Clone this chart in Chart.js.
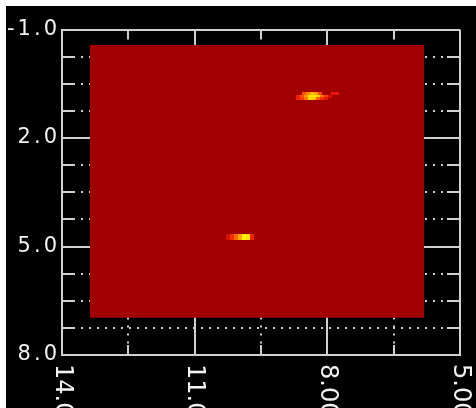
<!DOCTYPE html>
<html>
<head>
<meta charset="utf-8">
<script src="https://cdn.jsdelivr.net/npm/chart.js@4.4.0/dist/chart.umd.min.js"></script>
<style>
html, body { margin: 0; padding: 0; background: #fff; }
#wrap { position: absolute; left: 6px; top: 6px; width: 470px; height: 402px; background: #000; }
</style>
</head>
<body>
<div id="wrap"><canvas id="myChart" width="470" height="402"></canvas></div>
<script>
// tick positions and labels
var xMajor = [14, 11, 8, 5];
var xLabels = ['14.0', '11.0', '8.00', '5.00'];
var xMinor = [12.5, 9.5, 6.5];
var yMajor = [-1, 2, 5, 8];
var yLabels = ['-1.0', '2.0', '5.0', '8.0'];
var yMinor = [-0.25, 0.5, 1.25, 2.75, 3.5, 4.25, 5.75, 6.5, 7.25];

// extent of the map (x from, x to / y from, y to)
var fieldX = [13.37, 5.81];
var fieldY = [-0.57, 6.97];

// bright cells of the map
var hotX = [8.53, 8.44, 8.35, 8.26, 8.17, 7.87, 7.78,
            8.66, 8.57, 8.48, 8.39, 8.30, 8.21, 8.12, 8.03, 7.94,
            8.66, 8.57, 8.48, 8.39, 8.30, 8.21, 8.12, 8.03,
            10.25, 10.16, 10.07, 9.98, 9.88, 9.79, 9.70,
            10.25, 10.16, 10.07, 9.98, 9.88, 9.79, 9.70];
var hotY = [0.76, 0.76, 0.76, 0.76, 0.76, 0.76, 0.76,
            0.84, 0.84, 0.84, 0.84, 0.84, 0.84, 0.84, 0.84, 0.84,
            0.92, 0.92, 0.92, 0.92, 0.92, 0.92, 0.92, 0.92,
            4.69, 4.69, 4.69, 4.69, 4.69, 4.69, 4.69,
            4.77, 4.77, 4.77, 4.77, 4.77, 4.77, 4.77];
var hotV = [0.5, 0.65, 0.8, 0.75, 0.45, 0.25, 0.25,
            0.3, 0.5, 0.7, 0.95, 1, 0.9, 0.6, 0.4, 0.2,
            0.3, 0.4, 0.6, 0.9, 0.85, 0.55, 0.35, 0.25,
            0.2, 0.35, 0.55, 0.75, 1, 0.95, 0.3,
            0.2, 0.35, 0.55, 0.75, 1, 0.95, 0.3];

var stops = [[0, 162, 0, 0], [0.25, 230, 20, 0], [0.5, 255, 85, 0], [0.75, 255, 170, 0], [1, 255, 245, 0]];
function heat(v) {
  for (var i = 1; i < stops.length; i++) {
    if (v <= stops[i][0]) {
      var a = stops[i - 1], b = stops[i], t = (v - a[0]) / (b[0] - a[0]);
      return 'rgb(' + [1, 2, 3].map(function (k) { return Math.round(a[k] + (b[k] - a[k]) * t); }).join(',') + ')';
    }
  }
  return 'rgb(255,245,0)';
}

var cells = {};
function cell(color) {
  if (!cells[color]) {
    var c = document.createElement('canvas');
    c.width = 4; c.height = 3;
    var g = c.getContext('2d');
    g.fillStyle = color;
    g.fillRect(0, 0, 4, 3);
    cells[color] = c;
  }
  return cells[color];
}

function dotted(len, solid) {
  var d = [solid], pos = solid;
  while (pos + 8 + solid <= len) { d.push(6, 2); pos += 8; }
  d.push(len - pos - solid, solid, 1000);
  return d;
}

var lineGray = '#d0d0d0';

var tickText = {
  id: 'tickText',
  beforeDraw: function (chart) { chart.ctx.letterSpacing = '3px'; },
  afterDraw: function (chart) {
    var ctx = chart.ctx, sx = chart.scales.x, top = chart.chartArea.bottom + 9;
    ctx.save();
    ctx.letterSpacing = '0px';
    ctx.fillStyle = '#f2f2f2';
    ctx.font = '24px "DejaVu Sans"';
    ctx.textAlign = 'left';
    ctx.textBaseline = 'middle';
    xMajor.forEach(function (v, i) {
      ctx.save();
      ctx.translate(sx.getPixelForValue(v), top);
      ctx.rotate(Math.PI / 2);
      ctx.fillText(xLabels[i], 0, 0);
      ctx.restore();
    });
    ctx.restore();
  }
};

var ctx = document.getElementById('myChart').getContext('2d');
var myMap = new Chart(ctx, {
  type: 'scatter',
  data: {
    datasets: [{
      data: hotX.map(function (x, i) { return { x: x, y: hotY[i] }; }),
      pointStyle: function (c) { return cell(heat(hotV[c.dataIndex])); },
      pointRadius: 2,
      pointHoverRadius: 2
    }, {
      type: 'line',
      data: [{ x: fieldX[0], y: fieldY[1] }, { x: fieldX[1], y: fieldY[1] }],
      fill: { value: fieldY[0] },
      backgroundColor: heat(0),
      borderColor: 'transparent',
      borderWidth: 0,
      pointRadius: 0
    }]
  },
  options: {
    responsive: false,
    animation: false,
    events: [],
    layout: { padding: { top: 23.5, right: 16, left: 0, bottom: 0 } },
    plugins: { legend: { display: false }, tooltip: { enabled: false } },
    scales: {
      x: {
        type: 'linear', position: 'bottom', min: 5, max: 14, reverse: true,
        afterBuildTicks: function (s) { s.ticks = xMajor.map(function (v) { return { value: v }; }); },
        afterFit: function (s) { s.height = 53; },
        ticks: { display: false },
        grid: { color: lineGray, lineWidth: 2, drawTicks: false },
        border: { color: lineGray, width: 2 }
      },
      xm: {
        type: 'linear', position: 'bottom', min: 5, max: 14, reverse: true,
        afterBuildTicks: function (s) { s.ticks = xMinor.map(function (v) { return { value: v }; }); },
        afterFit: function (s) { s.height = 0; },
        ticks: { display: false },
        grid: { color: lineGray, lineWidth: 2, drawTicks: false },
        border: { display: false, dash: dotted(325.5, 10) }
      },
      y: {
        type: 'linear', position: 'left', min: -1, max: 8, reverse: true,
        afterBuildTicks: function (s) { s.ticks = yMajor.map(function (v) { return { value: v }; }); },
        afterFit: function (s) { s.width = 56; },
        ticks: {
          color: '#f2f2f2', padding: 2,
          font: { family: 'DejaVu Sans', size: 21 },
          callback: function (v) { return yLabels[yMajor.indexOf(v)]; }
        },
        grid: { color: lineGray, lineWidth: 2, drawTicks: false },
        border: { color: lineGray, width: 2 }
      },
      ym: {
        type: 'linear', position: 'left', min: -1, max: 8, reverse: true,
        afterBuildTicks: function (s) { s.ticks = yMinor.map(function (v) { return { value: v }; }); },
        afterFit: function (s) { s.width = 0; },
        ticks: { display: false },
        grid: { color: lineGray, lineWidth: 2, drawTicks: false },
        border: { display: false, dash: dotted(398, 13) }
      }
    }
  },
  plugins: [tickText]
});
</script>
</body>
</html>
